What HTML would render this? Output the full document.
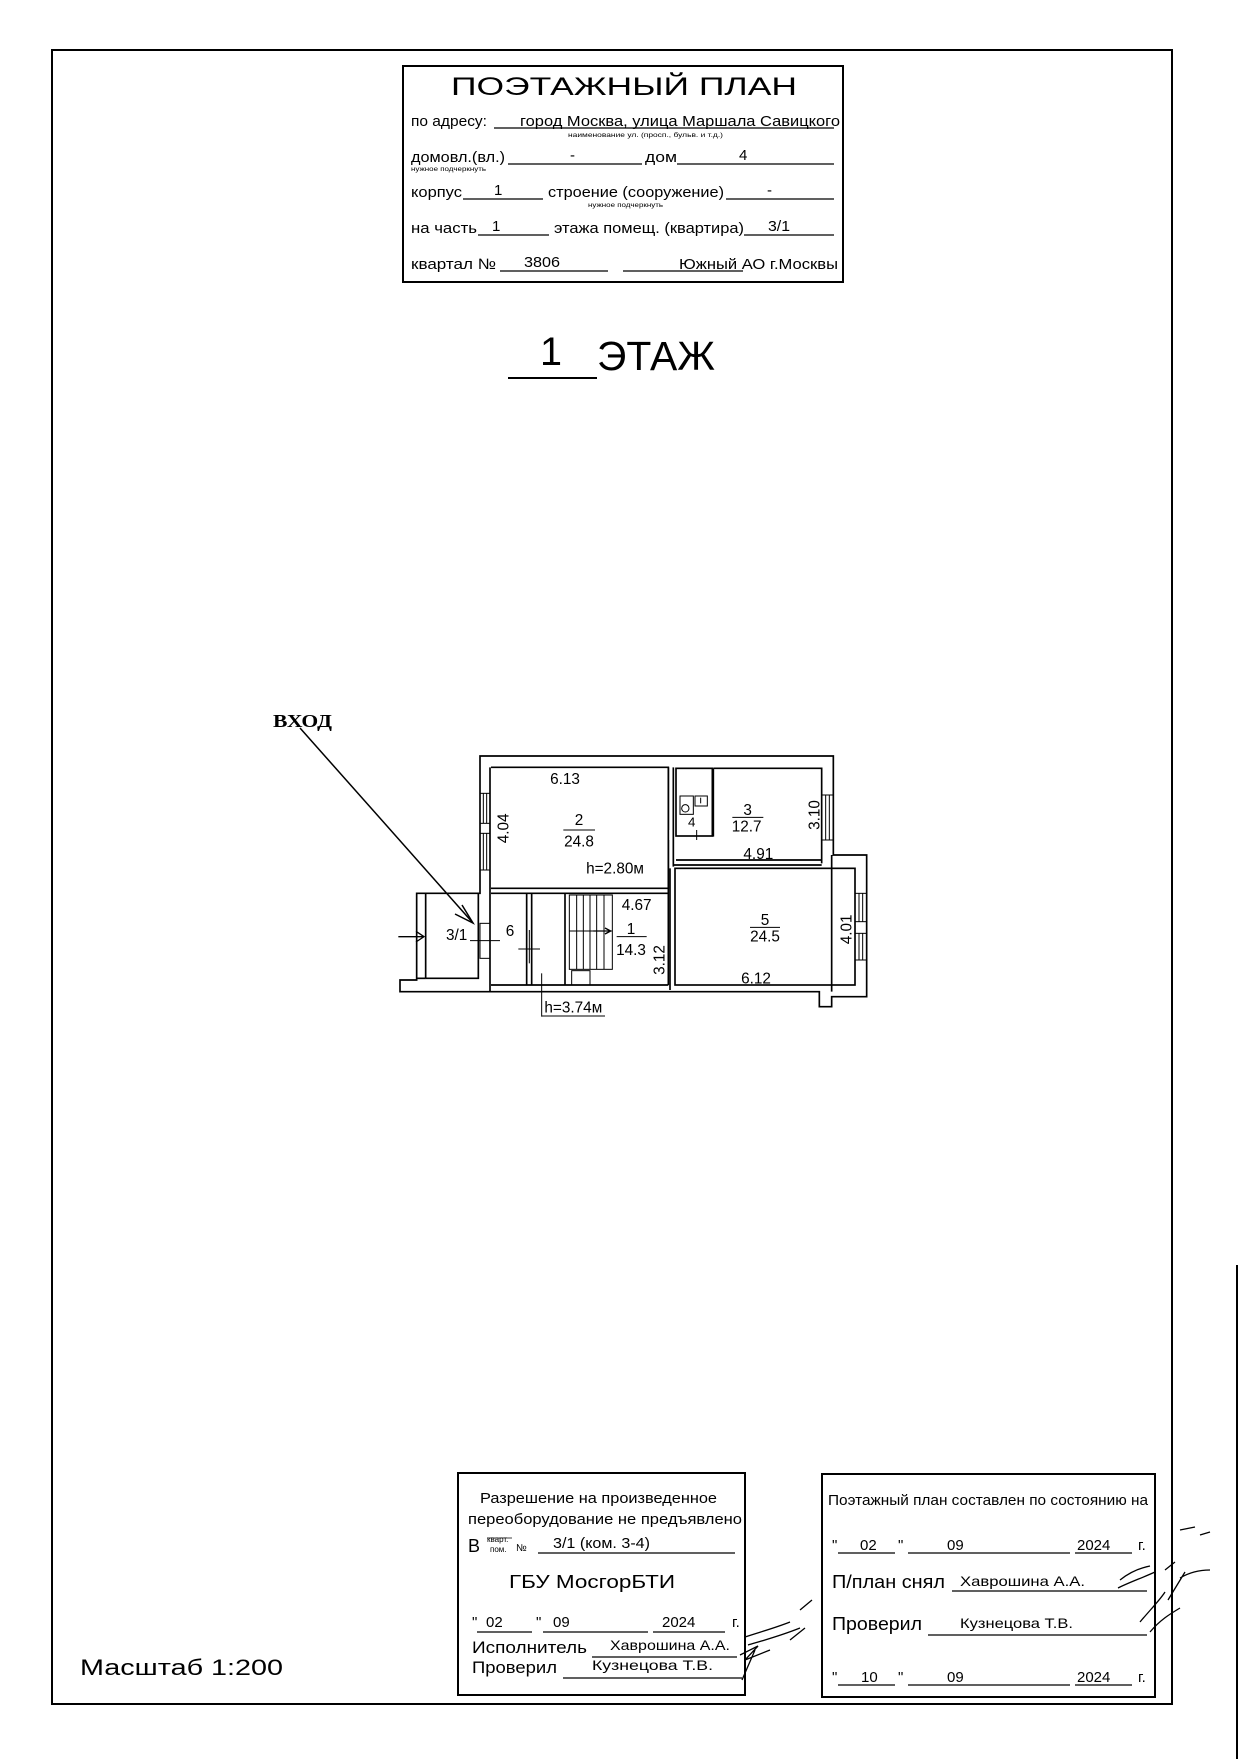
<!DOCTYPE html>
<html><head><meta charset="utf-8"><style>
html,body{margin:0;padding:0;background:#fff}
svg{display:block}
text{font-family:"Liberation Sans",sans-serif;fill:#000}
</style></head><body>
<svg width="1247" height="1759" viewBox="0 0 1247 1759" xmlns="http://www.w3.org/2000/svg">
<rect width="1247" height="1759" fill="#fff"/>
<!-- page border -->
<rect x="52" y="50" width="1120" height="1654" fill="none" stroke="#000" stroke-width="2"/>
<line x1="1237" y1="1265" x2="1237" y2="1759" stroke="#000" stroke-width="2"/>

<!-- title box -->
<rect x="403" y="66" width="440" height="216" fill="none" stroke="#000" stroke-width="2"/>
<text x="451" y="95" font-size="25" textLength="346" lengthAdjust="spacingAndGlyphs">ПОЭТАЖНЫЙ ПЛАН</text>
<g font-size="15">
<text x="411" y="126" textLength="76" lengthAdjust="spacingAndGlyphs">по адресу:</text>
<text x="520" y="126" textLength="320" lengthAdjust="spacingAndGlyphs">город Москва, улица Маршала Савицкого</text>
<text x="411" y="162" textLength="94" lengthAdjust="spacingAndGlyphs">домовл.(вл.)</text>
<text x="570" y="160">-</text>
<text x="645" y="162" textLength="32" lengthAdjust="spacingAndGlyphs">дом</text>
<text x="739" y="160">4</text>
<text x="411" y="197" textLength="51" lengthAdjust="spacingAndGlyphs">корпус</text>
<text x="494" y="195">1</text>
<text x="548" y="197" textLength="176" lengthAdjust="spacingAndGlyphs">строение (сооружение)</text>
<text x="767" y="195">-</text>
<text x="411" y="233" textLength="66" lengthAdjust="spacingAndGlyphs">на часть</text>
<text x="492" y="231">1</text>
<text x="554" y="233" textLength="190" lengthAdjust="spacingAndGlyphs">этажа помещ. (квартира)</text>
<text x="768" y="231" textLength="22" lengthAdjust="spacingAndGlyphs">3/1</text>
<text x="411" y="269" textLength="85" lengthAdjust="spacingAndGlyphs">квартал №</text>
<text x="524" y="267" textLength="36" lengthAdjust="spacingAndGlyphs">3806</text>
<text x="679" y="269" textLength="159" lengthAdjust="spacingAndGlyphs">Южный АО г.Москвы</text>
</g>
<g font-size="6">
<text x="568" y="137" textLength="155" lengthAdjust="spacingAndGlyphs">наименование ул. (просп., бульв. и т.д.)</text>
<text x="411" y="171" textLength="75" lengthAdjust="spacingAndGlyphs">нужное подчеркнуть</text>
<text x="588" y="207" textLength="75" lengthAdjust="spacingAndGlyphs">нужное подчеркнуть</text>
</g>
<g stroke="#000" stroke-width="1.3">
<line x1="494" y1="128" x2="834" y2="128"/>
<line x1="508" y1="164" x2="642" y2="164"/>
<line x1="677" y1="164" x2="834" y2="164"/>
<line x1="463" y1="199" x2="543" y2="199"/>
<line x1="726" y1="199" x2="834" y2="199"/>
<line x1="478" y1="235" x2="549" y2="235"/>
<line x1="744" y1="235" x2="834" y2="235"/>
<line x1="500" y1="271" x2="608" y2="271"/>
<line x1="623" y1="271" x2="743" y2="271"/>
</g>

<!-- 1 ЭТАЖ -->
<text x="540" y="365" font-size="40" textLength="22" lengthAdjust="spacingAndGlyphs">1</text>
<text x="597" y="370" font-size="41" textLength="118" lengthAdjust="spacingAndGlyphs">ЭТАЖ</text>
<line x1="508" y1="378" x2="597" y2="378" stroke="#000" stroke-width="2"/>

<!-- ВХОД -->
<text x="273" y="727" font-size="18" font-weight="bold" font-family="Liberation Serif, serif" style="font-family:'Liberation Serif',serif" textLength="59" lengthAdjust="spacingAndGlyphs">ВХОД</text>
<line x1="300" y1="728" x2="473" y2="923" stroke="#000" stroke-width="1.5"/>
<path d="M462,905 L473,923 L455,914" fill="none" stroke="#000" stroke-width="1.5"/>

<!-- floor plan (zoom coords) -->
<g transform="translate(380,730) scale(0.3333333)" fill="none" stroke="#000" stroke-width="5">
<!-- outer contour -->
<path d="M300,490 L300,78 L1360,78 L1360,375 L1460,375 L1460,800 L1355,800 L1355,830 L1318,830 L1318,785 L60,785 L60,750 L110,750 L110,490 Z"/>
<line x1="330" y1="112" x2="330" y2="785"/>
<!-- room 2 -->
<path d="M333,112 L865,112 L865,475 L333,475"/>
<line x1="333" y1="490" x2="865" y2="490"/>
<line x1="865" y1="112" x2="865" y2="300"/>
<line x1="865" y1="330" x2="865" y2="765"/>
<line x1="880" y1="112" x2="880" y2="410"/>
<!-- room 4 -->
<rect x="888" y="115" width="109" height="203"/>
<rect x="900" y="198" width="40" height="55" stroke-width="3"/>
<circle cx="916" cy="235" r="11" stroke-width="3"/>
<rect x="945" y="198" width="37" height="30" stroke-width="3"/>
<line x1="962" y1="203" x2="962" y2="220" stroke-width="3"/>
<line x1="950" y1="300" x2="950" y2="330" stroke-width="3"/>
<!-- room 3 -->
<path d="M1000,115 L1325,115 L1325,400"/>
<line x1="1000" y1="115" x2="1000" y2="320"/>
<line x1="888" y1="390" x2="1325" y2="390"/>
<line x1="880" y1="405" x2="1325" y2="405"/>
<!-- room 5 -->
<rect x="885" y="415" width="540" height="350"/>
<line x1="870" y1="415" x2="870" y2="780"/>
<line x1="1355" y1="375" x2="1355" y2="785"/>
<!-- bottom lines -->
<line x1="333" y1="765" x2="865" y2="765"/>
<!-- room 6 -->
<line x1="440" y1="490" x2="440" y2="765"/>
<line x1="455" y1="490" x2="455" y2="765"/>
<line x1="555" y1="490" x2="555" y2="765"/>
<!-- stairs -->
<g stroke-width="3">
<rect x="568" y="495" width="129" height="223"/>
<line x1="590" y1="495" x2="590" y2="718"/>
<line x1="610" y1="495" x2="610" y2="718"/>
<line x1="630" y1="495" x2="630" y2="718"/>
<line x1="650" y1="495" x2="650" y2="718"/>
<line x1="672" y1="495" x2="672" y2="718"/>
<line x1="568" y1="603" x2="697" y2="603"/>
<rect x="575" y="722" width="55" height="43"/>
</g>
<path d="M640,603 L692,603 M675,594 L692,603 L675,612" stroke-width="4"/>
<!-- vestibule 3/1 -->
<path d="M137,745 L137,490 M295,490 L295,745 L137,745"/>
<line x1="110" y1="745" x2="137" y2="745"/>
<!-- windows -->
<g stroke-width="3">
<rect x="300" y="190" width="30" height="90"/><line x1="310" y1="190" x2="310" y2="280"/><line x1="320" y1="190" x2="320" y2="280"/>
<rect x="300" y="310" width="30" height="110"/><line x1="310" y1="310" x2="310" y2="420"/><line x1="320" y1="310" x2="320" y2="420"/>
<rect x="1325" y="195" width="35" height="135"/><line x1="1337" y1="195" x2="1337" y2="330"/><line x1="1348" y1="195" x2="1348" y2="330"/>
<rect x="1425" y="490" width="35" height="85"/><line x1="1437" y1="490" x2="1437" y2="575"/><line x1="1448" y1="490" x2="1448" y2="575"/>
<rect x="1425" y="610" width="35" height="80"/><line x1="1437" y1="610" x2="1437" y2="690"/><line x1="1448" y1="610" x2="1448" y2="690"/>
<rect x="300" y="580" width="30" height="105"/>
</g>
<!-- crosses -->
<g stroke-width="3">
<line x1="270" y1="632" x2="360" y2="632"/>
<line x1="415" y1="657" x2="480" y2="657"/><line x1="448" y1="600" x2="448" y2="700"/>
<line x1="485" y1="730" x2="485" y2="860"/>
<line x1="485" y1="858" x2="675" y2="858"/>
<line x1="550" y1="300" x2="645" y2="300"/>
<line x1="1057" y1="262" x2="1150" y2="262"/>
<line x1="710" y1="620" x2="800" y2="620"/>
<line x1="1110" y1="592" x2="1200" y2="592"/>
</g>
<!-- entry arrow -->
<path d="M55,620 L132,620 M108,604 L132,620 L108,636" stroke-width="4"/>
</g>
<g transform="translate(380,730) scale(0.3333333)" font-size="46" text-anchor="middle">
<text x="555" y="162">6.13</text>
<text x="597" y="285">2</text>
<text x="597" y="350">24.8</text>
<text x="705" y="430">h=2.80м</text>
<text x="935" y="290" font-size="40">4</text>
<text x="1103" y="255">3</text>
<text x="1100" y="305">12.7</text>
<text x="1135" y="387">4.91</text>
<text x="770" y="540">4.67</text>
<text x="753" y="612">1</text>
<text x="753" y="675">14.3</text>
<text x="1155" y="585">5</text>
<text x="1155" y="635">24.5</text>
<text x="1128" y="760">6.12</text>
<text x="230" y="630">3/1</text>
<text x="390" y="618">6</text>
<text x="580" y="848">h=3.74м</text>
<text transform="translate(385,295) rotate(-90)">4.04</text>
<text transform="translate(1318,255) rotate(-90)">3.10</text>
<text transform="translate(853,690) rotate(-90)">3.12</text>
<text transform="translate(1415,598) rotate(-90)">4.01</text>
</g>

<!-- Масштаб -->
<text x="80" y="1675" font-size="22" textLength="203" lengthAdjust="spacingAndGlyphs">Масштаб 1:200</text>

<!-- bottom left box -->
<rect x="458" y="1473" width="287" height="222" fill="none" stroke="#000" stroke-width="2"/>
<g font-size="15">
<text x="480" y="1503" textLength="237" lengthAdjust="spacingAndGlyphs">Разрешение на произведенное</text>
<text x="468" y="1524" textLength="274" lengthAdjust="spacingAndGlyphs">переоборудование не предъявлено</text>
<text x="468" y="1552" font-size="18">В</text>
<text x="487" y="1542" font-size="8">кварт.</text>
<text x="490" y="1552" font-size="8">пом.</text>
<text x="516" y="1551" font-size="10">№</text>
<text x="553" y="1548" textLength="97" lengthAdjust="spacingAndGlyphs">3/1 (ком. 3-4)</text>
<text x="509" y="1588" font-size="18" textLength="166" lengthAdjust="spacingAndGlyphs">ГБУ МосгорБТИ</text>
<text x="472" y="1627">"</text><text x="486" y="1627">02</text><text x="536" y="1627">"</text>
<text x="553" y="1627">09</text><text x="662" y="1627">2024</text><text x="732" y="1627">г.</text>
<text x="472" y="1653" font-size="17" textLength="115" lengthAdjust="spacingAndGlyphs">Исполнитель</text>
<text x="610" y="1650" font-size="14" textLength="120" lengthAdjust="spacingAndGlyphs">Хаврошина А.А.</text>
<text x="472" y="1673" font-size="17" textLength="85" lengthAdjust="spacingAndGlyphs">Проверил</text>
<text x="592" y="1670" font-size="14" textLength="121" lengthAdjust="spacingAndGlyphs">Кузнецова Т.В.</text>
</g>
<g stroke="#000" stroke-width="1.3">
<line x1="487" y1="1538" x2="512" y2="1538" stroke-width="0.8"/>
<line x1="538" y1="1553" x2="735" y2="1553"/>
<line x1="477" y1="1632" x2="532" y2="1632"/>
<line x1="543" y1="1632" x2="648" y2="1632"/>
<line x1="653" y1="1632" x2="725" y2="1632"/>
<line x1="592" y1="1657" x2="737" y2="1657"/>
<line x1="563" y1="1678" x2="742" y2="1678"/>
</g>

<!-- bottom right box -->
<rect x="822" y="1474" width="333" height="223" fill="none" stroke="#000" stroke-width="2"/>
<g font-size="15">
<text x="828" y="1505" textLength="320" lengthAdjust="spacingAndGlyphs">Поэтажный план составлен по состоянию на</text>
<text x="832" y="1550">"</text><text x="860" y="1550">02</text><text x="898" y="1550">"</text>
<text x="947" y="1550">09</text><text x="1077" y="1550">2024</text><text x="1138" y="1550">г.</text>
<text x="832" y="1588" font-size="18" textLength="113" lengthAdjust="spacingAndGlyphs">П/план снял</text>
<text x="960" y="1586" font-size="14" textLength="125" lengthAdjust="spacingAndGlyphs">Хаврошина А.А.</text>
<text x="832" y="1630" font-size="18" textLength="90" lengthAdjust="spacingAndGlyphs">Проверил</text>
<text x="960" y="1628" font-size="14" textLength="113" lengthAdjust="spacingAndGlyphs">Кузнецова Т.В.</text>
<text x="832" y="1682">"</text><text x="861" y="1682">10</text><text x="898" y="1682">"</text>
<text x="947" y="1682">09</text><text x="1077" y="1682">2024</text><text x="1138" y="1682">г.</text>
</g>
<g stroke="#000" stroke-width="1.3">
<line x1="838" y1="1553" x2="895" y2="1553"/>
<line x1="908" y1="1553" x2="1070" y2="1553"/>
<line x1="1075" y1="1553" x2="1132" y2="1553"/>
<line x1="952" y1="1591" x2="1147" y2="1591"/>
<line x1="928" y1="1635" x2="1147" y2="1635"/>
<line x1="838" y1="1685" x2="895" y2="1685"/>
<line x1="908" y1="1685" x2="1070" y2="1685"/>
<line x1="1075" y1="1685" x2="1132" y2="1685"/>
</g>

<!-- signatures -->
<g fill="none" stroke="#000" stroke-width="1.3">
<path d="M745,1637 C760,1632 775,1628 790,1622 M748,1645 C765,1640 780,1636 800,1628 M740,1655 L758,1646 L745,1660 L770,1650 M742,1680 L755,1650 M800,1610 L812,1600 M790,1640 L805,1628"/>
<path d="M1120,1580 C1130,1572 1140,1568 1150,1566 M1118,1588 C1130,1582 1142,1578 1155,1572 M1165,1570 L1175,1562 M1180,1578 C1190,1572 1200,1570 1210,1570 M1168,1600 L1185,1572 M1140,1622 C1150,1610 1160,1600 1165,1592 M1150,1632 C1160,1620 1170,1614 1180,1608"/>
<path d="M1180,1530 L1195,1527 M1200,1535 L1210,1532"/>
</g>
</svg>
</body></html>
